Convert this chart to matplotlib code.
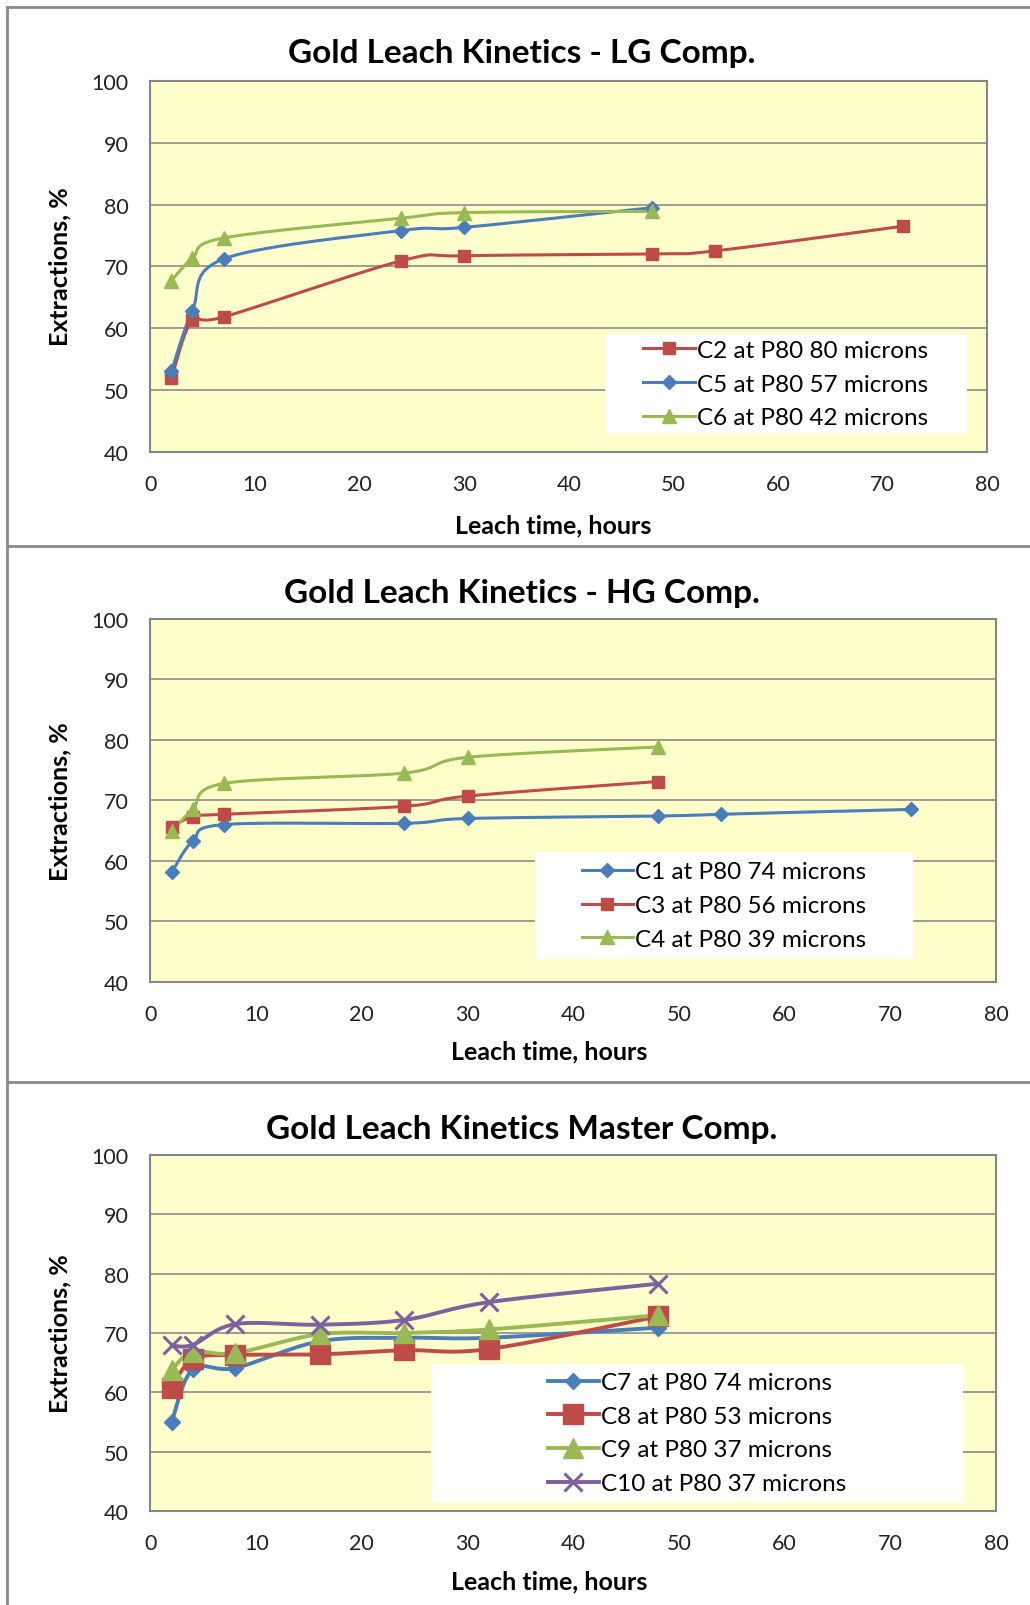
import numpy as np
import matplotlib.pyplot as plt
from matplotlib.lines import Line2D
from matplotlib.patches import Rectangle

plt.rcParams['font.family'] = ['Lato', 'DejaVu Sans']

# LG composite
lg_time_c2 = [2, 4, 7, 24, 30, 48, 54, 72]
lg_c2 = [51.9, 61.3, 61.8, 70.9, 71.7, 72.0, 72.5, 76.5]
lg_time = [2, 4, 7, 24, 30, 48]
lg_c5 = [53.0, 62.8, 71.2, 75.8, 76.3, 79.5]
lg_c6 = [67.7, 71.3, 74.6, 77.8, 78.7, 78.9]

# HG composite
hg_time_c1 = [2, 4, 7, 24, 30, 48, 54, 72]
hg_c1 = [58.1, 63.3, 66.0, 66.2, 67.0, 67.4, 67.7, 68.5]
hg_time = [2, 4, 7, 24, 30, 48]
hg_c3 = [65.6, 67.3, 67.7, 69.0, 70.7, 73.1]
hg_c4 = [64.9, 68.5, 72.8, 74.5, 77.1, 78.8]

# Master composite
m_time = [2, 4, 8, 16, 24, 32, 48]
m_c7 = [55.0, 63.9, 64.1, 68.6, 69.2, 69.2, 70.9]
m_c8 = [60.7, 65.6, 66.3, 66.4, 67.1, 67.3, 72.8]
m_c9 = [63.8, 66.8, 66.6, 69.8, 70.0, 70.6, 73.0]
m_c10 = [67.9, 68.0, 71.5, 71.4, 72.2, 75.2, 78.3]

BLUE = '#4a7ebb'
RED = '#be4b48'
GREEN = '#98b954'
PURPLE = '#7d60a0'


def smooth(x, y, n=30):
    # excel style smoothed line (bezier through the points)
    p = np.column_stack([x, y]).astype(float)
    ext = np.vstack([p[0], p, p[-1]])
    t = np.linspace(0, 1, n)[:, None]
    out = []
    for i in range(len(p) - 1):
        p0, p1 = ext[i + 1], ext[i + 2]
        c1 = p0 + (ext[i + 2] - ext[i]) / 6
        c2 = p1 - (ext[i + 3] - ext[i + 1]) / 6
        seg = ((1 - t) ** 3) * p0 + 3 * ((1 - t) ** 2) * t * c1 + 3 * (1 - t) * t ** 2 * c2 + t ** 3 * p1
        out.append(seg)
    out = np.vstack(out)
    return out[:, 0], out[:, 1]


def series(ax, x, y, color, marker, ms, lw, mew=1):
    sx, sy = smooth(x, y)
    ax.plot(sx, sy, color=color, lw=lw, zorder=4, solid_capstyle='round')
    ax.plot(x, y, ls='none', marker=marker, ms=ms, color=color, mec=color, mew=mew, zorder=5)
    return Line2D([], [], color=color, lw=lw, marker=marker, ms=ms, mec=color, mew=mew)


def setup(ax, box, xlab_pos, ylab_pos):
    ax.set_facecolor('#ffffcc')
    ax.set_xlim(0, 80)
    ax.set_ylim(40, 100)
    ax.set_xticks(range(0, 81, 10))
    ax.set_yticks(range(40, 101, 10))
    ax.grid(axis='y', color='#8c8c8c', lw=1.2)
    ax.set_axisbelow(True)
    for s in ax.spines.values():
        s.set_color('#868686')
        s.set_linewidth(1.5)
    ax.tick_params(length=0, labelsize=15.5, colors='#222222', pad=16)
    ax.set_xlabel('Leach time, hours', fontsize=18, fontweight='bold')
    ax.set_ylabel('Extractions, %', fontsize=18, fontweight='bold')
    ax.xaxis.set_label_coords(*xlab_pos)
    ax.yaxis.set_label_coords(*ylab_pos)
    ax.add_patch(Rectangle((box[0], box[1]), box[2], box[3], transform=ax.transAxes,
                           facecolor='white', edgecolor='none', zorder=3))


def legend(ax, handles, labels, box):
    lg = ax.legend(handles, labels, loc='center',
                   bbox_to_anchor=(box[0] + box[2] / 2, box[1] + box[3] / 2),
                   frameon=False, fontsize=17.5, handlelength=2.1, handletextpad=0.1,
                   labelspacing=0.52, borderpad=0)
    lg.set_zorder(6)


fig = plt.figure(figsize=(10.3, 16.06), dpi=100)

# panel 1
ax1 = fig.add_axes([0.1461, 0.7182, 0.8121, 0.2307])
box1 = (0.543, 0.047, 0.433, 0.27)
setup(ax1, box1, (0.481, -0.166), (-0.095, 0.503))
h = [series(ax1, lg_time_c2, lg_c2, RED, 's', 9, 2.2),
     series(ax1, lg_time, lg_c5, BLUE, 'D', 7, 2.2),
     series(ax1, lg_time, lg_c6, GREEN, '^', 10, 2.2)]
legend(ax1, h, ['C2 at P80 80 microns', 'C5 at P80 57 microns', 'C6 at P80 42 microns'], box1)

# panel 2
ax2 = fig.add_axes([0.1461, 0.3879, 0.8209, 0.2263])
box2 = (0.455, 0.063, 0.447, 0.295)
setup(ax2, box2, (0.472, -0.157), (-0.094, 0.498))
h = [series(ax2, hg_time_c1, hg_c1, BLUE, 'D', 7, 2.2),
     series(ax2, hg_time, hg_c3, RED, 's', 9, 2.2),
     series(ax2, hg_time, hg_c4, GREEN, '^', 10, 2.2)]
legend(ax2, h, ['C1 at P80 74 microns', 'C3 at P80 56 microns', 'C4 at P80 39 microns'], box2)

# panel 3
ax3 = fig.add_axes([0.1461, 0.0585, 0.8209, 0.2217])
box3 = (0.332, 0.025, 0.629, 0.388)
setup(ax3, box3, (0.472, -0.163), (-0.094, 0.5))
h = [series(ax3, m_time, m_c7, BLUE, 'D', 8, 2.8),
     series(ax3, m_time, m_c8, RED, 's', 14, 2.8),
     series(ax3, m_time, m_c9, GREEN, '^', 14, 2.8),
     series(ax3, m_time, m_c10, PURPLE, 'x', 13, 2.8, mew=2.2)]
legend(ax3, h, ['C7 at P80 74 microns', 'C8 at P80 53 microns', 'C9 at P80 37 microns',
                'C10 at P80 37 microns'], box3)

# titles
W, H = 1030, 1606
for ty, txt in [(54, 'Gold Leach Kinetics - LG Comp.'),
                (594, 'Gold Leach Kinetics - HG Comp.'),
                (1130, 'Gold Leach Kinetics Master Comp.')]:
    fig.text(522 / W, 1 - ty / H, txt, ha='center', va='center', fontsize=24, fontweight='bold')

# chart frames
frame = dict(color='#8a8a8a', lw=2, transform=fig.transFigure)
fig.add_artist(Line2D([7 / W, 7 / W], [0, 1 - 8 / H], **frame))
for yy in [8, 547, 1083]:
    fig.add_artist(Line2D([7 / W, 1], [1 - yy / H, 1 - yy / H], **frame))

fig.savefig('out.png', dpi=100, facecolor='white')
